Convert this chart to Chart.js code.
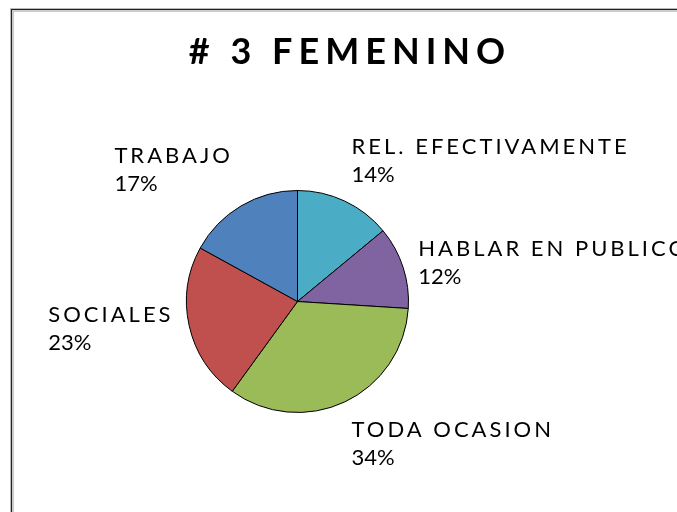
<!DOCTYPE html>
<html>
<head>
<meta charset="utf-8">
<script src="https://cdn.jsdelivr.net/npm/chart.js@4.4.1/dist/chart.umd.min.js"></script>
<style>
  html, body { margin: 0; padding: 0; background: #fff; overflow: hidden; }
  #wrap { position: relative; width: 677px; height: 512px; }
  #frame {
    position: absolute; left: 11px; top: 9px; width: 700px; height: 600px;
    border: 1px solid #222;
    box-shadow: 0 0 0 1px #bbb, inset 0 0 0 2px #ccc;
  }
  canvas { position: absolute; left: 0; top: 0; }
</style>
</head>
<body>
<div id="wrap">
  <div id="frame"></div>
  <canvas id="pie" width="677" height="512"></canvas>
</div>
<script>
const titleText = '# 3 FEMENINO'
const categories = ['REL. EFECTIVAMENTE', 'HABLAR EN PUBLICO', 'TODA OCASION', 'SOCIALES', 'TRABAJO']
const values = [14, 12, 34, 23, 17]
const colors = ['#4BACC6', '#8064A2', '#9BBB59', '#C0504D', '#4F81BD']

// titulo dibujado a mano, centrado sobre el marco
const titlePlugin = {
  id: 'excelTitle',
  afterDraw(chart) {
    const ctx = chart.ctx
    ctx.save()
    ctx.font = 'bold 36px Lato'
    ctx.letterSpacing = '6px'
    ctx.fillStyle = '#000'
    ctx.textAlign = 'center'
    ctx.textBaseline = 'alphabetic'
    ctx.fillText(titleText, 350, 64)
    ctx.restore()
  }
}

// etiquetas fuera del pastel, estilo Excel (nombre + porcentaje)
const labelPlugin = {
  id: 'outsideLabels',
  afterDatasetsDraw(chart) {
    const ctx = chart.ctx
    const meta = chart.getDatasetMeta(0)
    const total = values.reduce((a, b) => a + b, 0)
    ctx.save()
    ctx.fillStyle = '#000'
    ctx.textAlign = 'left'
    ctx.textBaseline = 'alphabetic'
    meta.data.forEach((arc, i) => {
      const p = arc.getProps(['x', 'y', 'startAngle', 'endAngle', 'outerRadius'], true)
      const a = (p.startAngle + p.endAngle) / 2
      const ex = p.x + p.outerRadius * Math.cos(a)
      const ey = p.y + p.outerRadius * Math.sin(a)
      const pct = Math.round(values[i] / total * 100) + '%'

      ctx.font = '22px Lato'
      ctx.letterSpacing = '3px'
      const w1 = ctx.measureText(categories[i]).width
      ctx.letterSpacing = '0px'
      const w2 = ctx.measureText(pct).width
      const w = Math.max(w1, w2)

      const cy = ey + Math.sin(a) * Math.abs(Math.sin(a)) * 50
      let left = ex + Math.cos(a) * 16
      if (Math.cos(a) < 0) left -= w

      ctx.letterSpacing = '3px'
      ctx.fillText(categories[i], left, cy - 14 + 8)
      ctx.letterSpacing = '0px'
      ctx.fillText(pct, left, cy + 14 + 8)
    })
    ctx.restore()
  }
}

new Chart(document.getElementById('pie'), {
  type: 'pie',
  data: {
    labels: categories,
    datasets: [{
      data: values,
      backgroundColor: colors,
      borderColor: '#000',
      borderWidth: 1
    }]
  },
  options: {
    responsive: false,
    animation: false,
    layout: { padding: { left: 186, right: 268, top: 190, bottom: 99 } },
    plugins: {
      legend: { display: false },
      tooltip: { enabled: false },
      title: { display: false }
    }
  },
  plugins: [titlePlugin, labelPlugin]
})
</script>
</body>
</html>
